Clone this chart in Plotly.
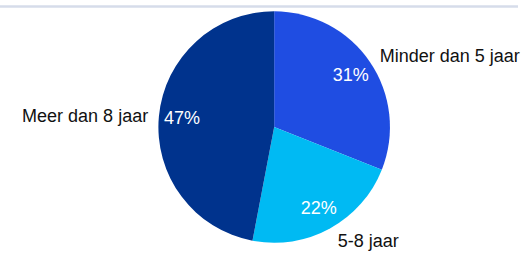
import plotly.graph_objects as go

categories = ["Minder dan 5 jaar", "5-8 jaar", "Meer dan 8 jaar"]
values = [31, 22, 47]
colors = ["#1f4de2", "#00baf3", "#00338d"]

W, H = 529, 256
cx, cy, r = 280, 126.5, 120


def dom(rad):
    return dict(x=[(cx - rad) / W, (cx + rad) / W], y=[(H - (cy + rad)) / H, (H - (cy - rad)) / H])


font = "Liberation Sans, Arial, sans-serif"
common = dict(labels=categories, values=values, sort=False, direction="clockwise", rotation=0,
              showlegend=False, hoverinfo="skip")

fig = go.Figure()
fig.add_trace(go.Pie(**common, marker=dict(colors=colors, line=dict(width=0)),
                     textinfo="none", domain=dom(r)))
fig.add_trace(go.Pie(**common, marker=dict(colors=["rgba(0,0,0,0)"] * len(values), line=dict(width=0)),
                     textinfo="label", textposition="outside",
                     outsidetextfont=dict(family=font, size=18, color="#111111"),
                     domain=dom(r + 6)))
fig.add_trace(go.Pie(**common, hole=0.6,
                     marker=dict(colors=["rgba(0,0,0,0)"] * len(values), line=dict(width=0)),
                     texttemplate="%{value}%", textposition="inside", insidetextorientation="horizontal",
                     insidetextfont=dict(family=font, size=18, color="#ffffff"),
                     domain=dom(r)))
fig.update_layout(
    width=W, height=H, margin=dict(l=0, r=0, t=0, b=0),
    paper_bgcolor="white", plot_bgcolor="white",
    shapes=[dict(type="line", xref="paper", yref="paper", x0=0, x1=1, y0=1 - 1.5 / H, y1=1 - 1.5 / H,
                 line=dict(color="#d6dcea", width=2.5), layer="above")],
)
fig.write_html("out.html", config={"displayModeBar": False},
               post_script="document.body.style.margin='0'; document.documentElement.style.margin='0';")
